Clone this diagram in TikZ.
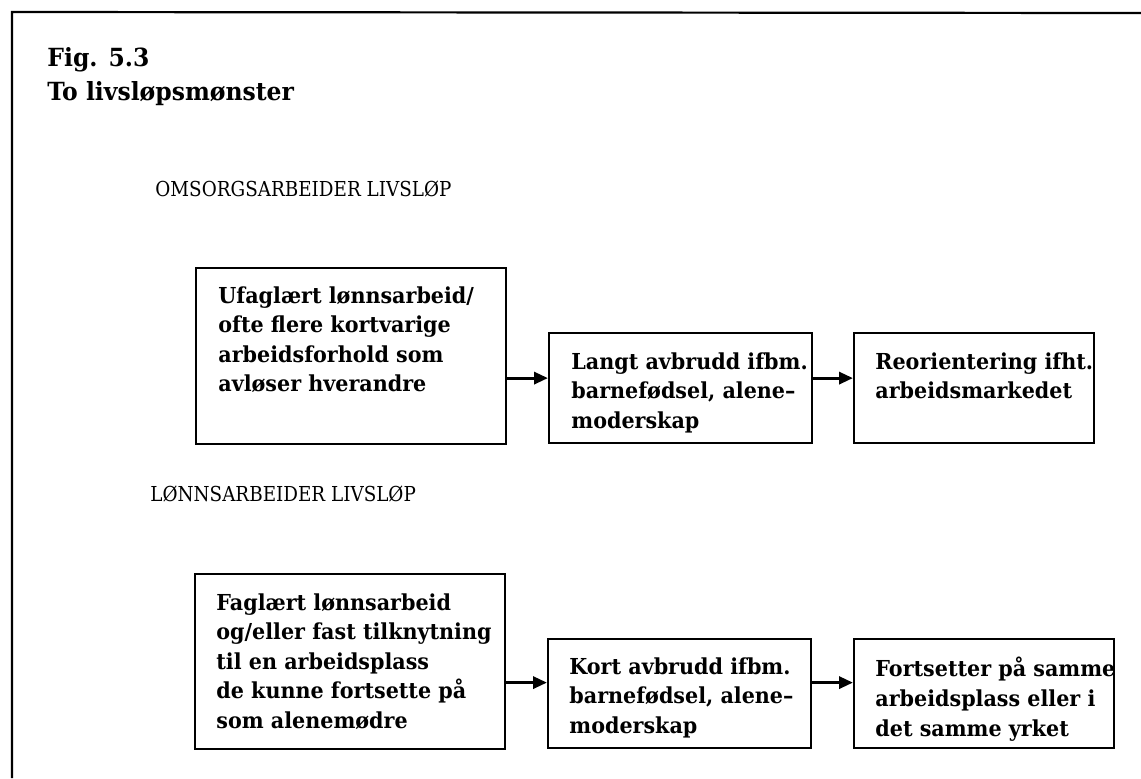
\documentclass[tikz,border=0pt]{standalone}
\usepackage{fontspec}
\setmainfont{DejaVu Serif}[FakeStretch=0.94]
\newfontfamily\headfont{DejaVu Serif}[FakeStretch=0.89]
\usetikzlibrary{arrows.meta}

\tikzset{
  box/.style={draw, line width=1.1pt, anchor=north west, inner sep=0pt},
  boxtext/.style={anchor=north west, inner sep=0pt, align=left,
    font=\bfseries\fontsize{11}{14.8}\selectfont},
  heading/.style={anchor=base west, inner sep=0pt,
    font=\headfont\fontsize{10.3}{12}\selectfont},
  flow/.style={line width=1.6pt, -{Triangle[length=7pt,width=6pt]}},
}

\begin{document}
\begin{tikzpicture}[x=0.5pt, y=-0.5pt]
  \useasboundingbox (0,0) rectangle (1141,778);

  % frame
  \draw[line width=1.1pt] (12,778) -- (12,12) -- (1141,13);

  \node[anchor=base west, inner sep=0pt, font=\bfseries\fontsize{12.5}{17}\selectfont] (fig) at (47,66) {Fig. 5.3};
  \node[anchor=base west, inner sep=0pt, font=\bfseries\fontsize{12.5}{17}\selectfont] (title) at (47,100) {To livsløpsmønster};

  % upper row
  \node[heading] (omsorg) at (155,196) {OMSORGSARBEIDER LIVSLØP};
  \node[box, minimum width=155pt, minimum height=88pt] (u1) at (195,267) {};
  \node[box, minimum width=131.5pt, minimum height=55pt] (u2) at (548,332) {};
  \node[box, minimum width=120pt, minimum height=55pt] (u3) at (853,332) {};
  \node[boxtext] (u1t) at ([shift={(23,19)}]u1.north west) {Ufaglært lønnsarbeid/\\ofte flere kortvarige\\arbeidsforhold som\\avløser hverandre};
  \node[boxtext] (u2t) at ([shift={(23,20)}]u2.north west) {Langt avbrudd ifbm.\\barnefødsel, alene--\\moderskap};
  \node[boxtext] (u3t) at ([shift={(22,20)}]u3.north west) {Reorientering ifht.\\arbeidsmarkedet};
  \draw[flow] ([yshift=5pt]u2.west -| u1.east) -- ([yshift=5pt]u2.west);
  \draw[flow] ([yshift=5pt]u2.east) -- ([yshift=5pt]u3.west);

  % lower row
  \node[heading] (lonn) at (150,501) {LØNNSARBEIDER LIVSLØP};
  \node[box, minimum width=155pt, minimum height=87.5pt] (l1) at (194,573) {};
  \node[box, minimum width=131.5pt, minimum height=54.5pt] (l2) at (547,638) {};
  \node[box, minimum width=130pt, minimum height=54.5pt] (l3) at (853,638) {};
  \node[boxtext] (l1t) at ([shift={(22,20)}]l1.north west) {Faglært lønnsarbeid\\og/eller fast tilknytning\\til en arbeidsplass\\de kunne fortsette på\\som alenemødre};
  \node[boxtext] (l2t) at ([shift={(22,19)}]l2.north west) {Kort avbrudd ifbm.\\barnefødsel, alene--\\moderskap};
  \node[boxtext] (l3t) at ([shift={(22,19)}]l3.north west) {Fortsetter på samme\\arbeidsplass eller i\\det samme yrket};
  \draw[flow] ([yshift=5.5pt]l2.west -| l1.east) -- ([yshift=5.5pt]l2.west);
  \draw[flow] ([yshift=5.5pt]l2.east) -- ([yshift=5.5pt]l3.west);
\end{tikzpicture}
\end{document}
